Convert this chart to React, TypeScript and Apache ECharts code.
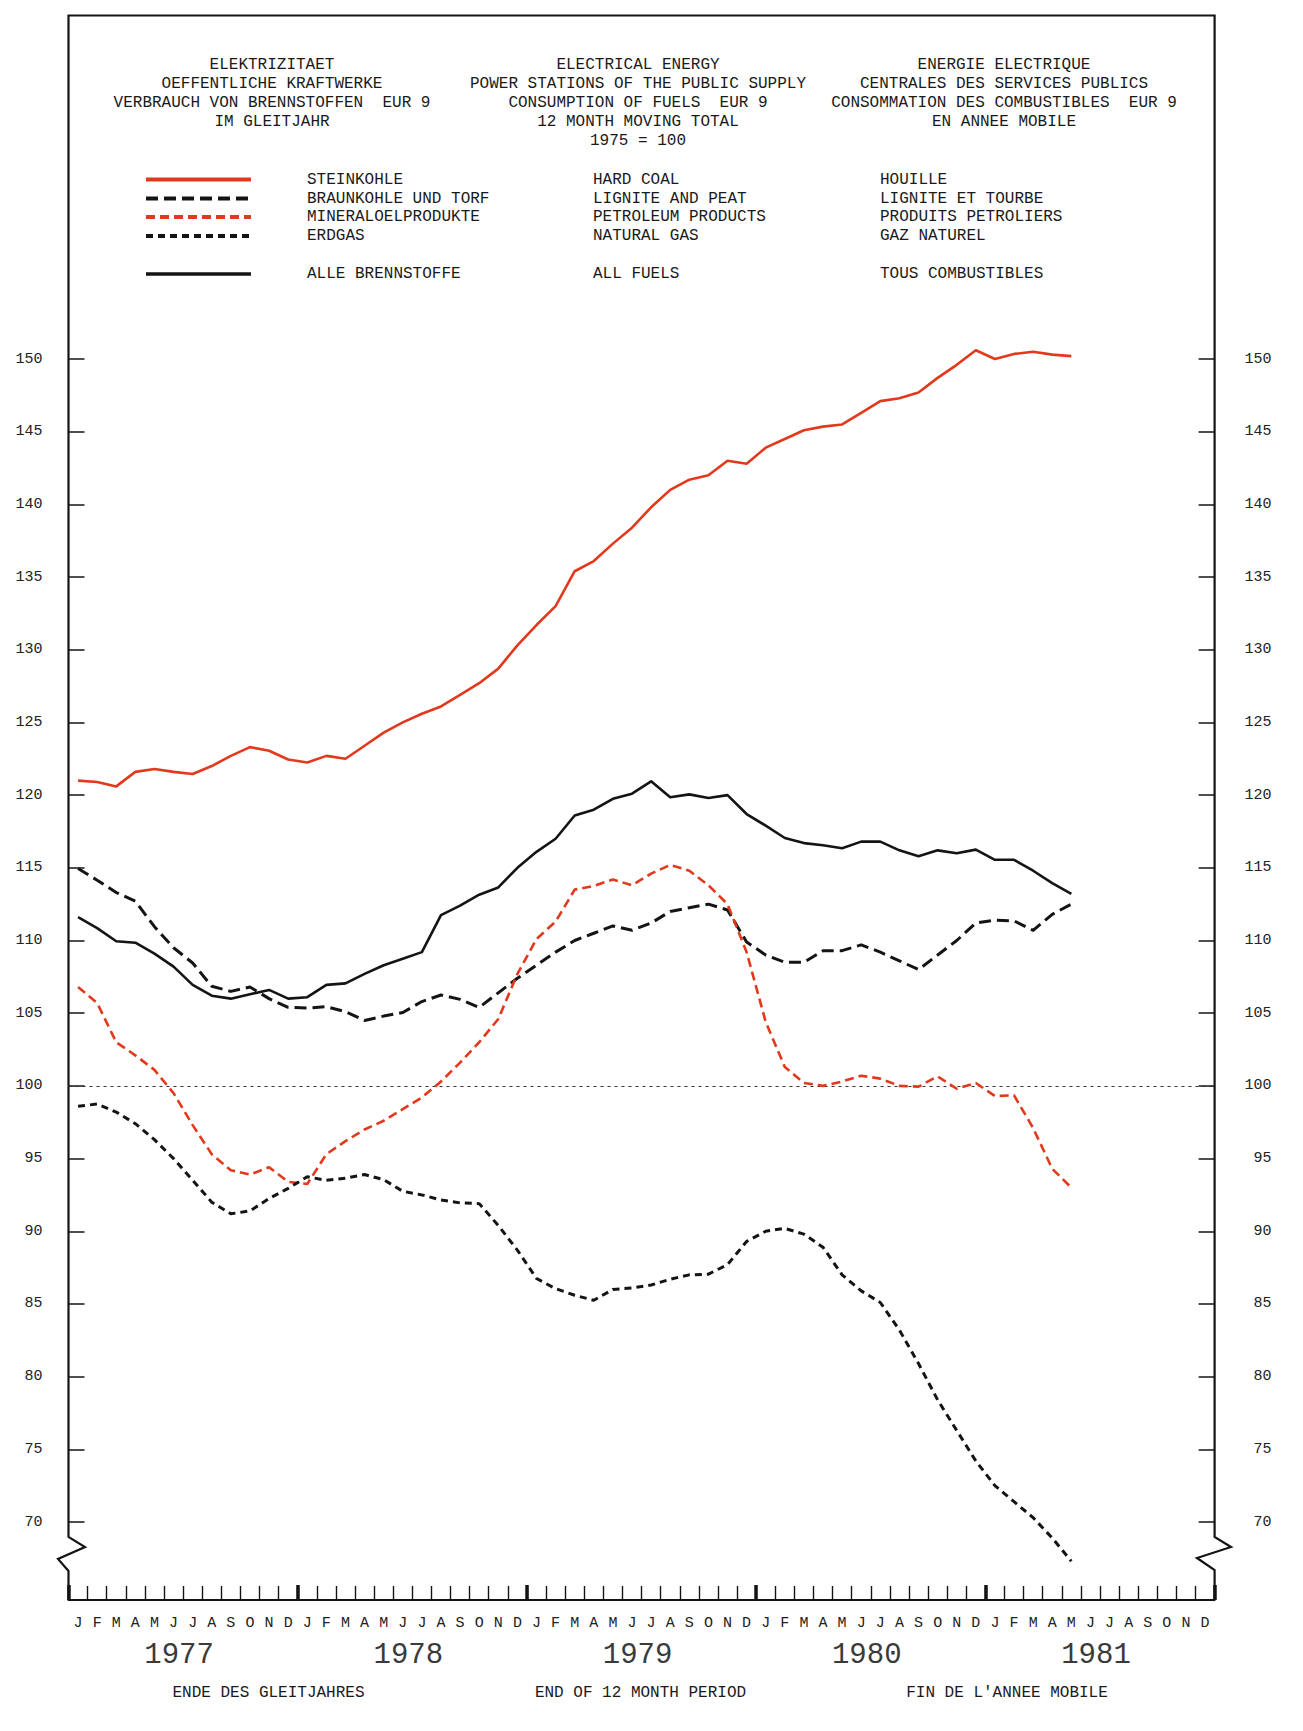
import React, { useEffect, useRef } from "react";
import * as echarts from "echarts";

// ---------- categories ----------
const years = ["1977", "1978", "1979", "1980", "1981"];
const monthLetters = ["J", "F", "M", "A", "M", "J", "J", "A", "S", "O", "N", "D"];
const months = years.flatMap((y) =>
  monthLetters.map((_, i) => `${y}-${String(i + 1).padStart(2, "0")}`)
);

// ---------- series values (Jan 1977 .. May 1981), 1975 = 100 ----------
const hardCoal = [
  121.0, 120.9, 120.6, 121.6, 121.8, 121.6, 121.45, 122.0, 122.7, 123.3, 123.05, 122.45,
  122.25, 122.7, 122.5, 123.4, 124.3, 125.0, 125.6, 126.1, 126.9, 127.7, 128.7, 130.3,
  131.7, 133.0, 135.4, 136.1, 137.3, 138.4, 139.8, 141.0, 141.7, 142.0, 143.0, 142.8,
  143.9, 144.5, 145.1, 145.35, 145.5, 146.3, 147.1, 147.3, 147.7, 148.7, 149.6, 150.6,
  150.0, 150.35, 150.5, 150.3, 150.2,
];
const lignite = [
  114.95, 114.15, 113.3, 112.7, 110.95, 109.5, 108.45, 106.85, 106.5, 106.8, 106.0, 105.4,
  105.35, 105.45, 105.1, 104.5, 104.8, 105.05, 105.8, 106.25, 105.95, 105.4, 106.4, 107.4,
  108.3, 109.2, 110.0, 110.5, 111.0, 110.7, 111.2, 112.0, 112.25, 112.5, 112.1, 109.9,
  109.0, 108.5, 108.5, 109.3, 109.3, 109.7, 109.2, 108.6, 108.0, 109.0, 110.0, 111.2,
  111.4, 111.35, 110.7, 111.8, 112.5,
];
const petroleum = [
  106.8, 105.7, 103.0, 102.1, 101.1, 99.5, 97.3, 95.3, 94.2, 93.9, 94.4, 93.4,
  93.25, 95.3, 96.2, 97.0, 97.6, 98.4, 99.2, 100.3, 101.6, 103.0, 104.6, 107.7,
  110.1, 111.3, 113.5, 113.75, 114.2, 113.8, 114.6, 115.2, 114.8, 113.8, 112.5, 109.2,
  104.4, 101.3, 100.2, 100.0, 100.3, 100.7, 100.5, 100.0, 99.95, 100.65, 99.8, 100.2,
  99.3, 99.35, 97.1, 94.3, 93.0,
];
const naturalGas = [
  98.6, 98.75, 98.2, 97.4, 96.3, 95.0, 93.5, 92.0, 91.2, 91.4, 92.25, 92.95,
  93.75, 93.5, 93.65, 93.9, 93.55, 92.75, 92.5, 92.15, 91.95, 91.9, 90.4, 88.7,
  86.75, 86.05, 85.6, 85.25, 86.0, 86.1, 86.3, 86.7, 87.0, 87.05, 87.7, 89.3,
  90.0, 90.2, 89.8, 88.9, 87.0, 85.9, 85.1, 83.2, 80.9, 78.4, 76.3, 74.2,
  72.5, 71.4, 70.3, 68.9, 67.3,
];
const allFuels = [
  111.6, 110.85, 109.95, 109.85, 109.1, 108.2, 106.95, 106.2, 106.0, 106.3, 106.6, 106.0,
  106.1, 106.95, 107.05, 107.7, 108.3, 108.75, 109.2, 111.75, 112.4, 113.15, 113.65, 115.0,
  116.1, 117.0, 118.6, 119.0, 119.75, 120.1, 120.95, 119.85, 120.05, 119.8, 120.0, 118.7,
  117.9, 117.05, 116.7, 116.55, 116.35, 116.8, 116.8, 116.2, 115.8, 116.2, 116.0, 116.25,
  115.55, 115.55, 114.8, 113.95, 113.2,
];

// ---------- tick labels ----------
const yTickValues = [70, 75, 80, 85, 90, 95, 100, 105, 110, 115, 120, 125, 130, 135, 140, 145, 150];
const baseValue = 100;

// ---------- texts ----------
const titleDE = ["ELEKTRIZITAET", "OEFFENTLICHE KRAFTWERKE", "VERBRAUCH VON BRENNSTOFFEN  EUR 9", "IM GLEITJAHR"];
const titleEN = ["ELECTRICAL ENERGY", "POWER STATIONS OF THE PUBLIC SUPPLY", "CONSUMPTION OF FUELS  EUR 9", "12 MONTH MOVING TOTAL", "1975 = 100"];
const titleFR = ["ENERGIE ELECTRIQUE", "CENTRALES DES SERVICES PUBLICS", "CONSOMMATION DES COMBUSTIBLES  EUR 9", "EN ANNEE MOBILE"];
const legendDE = ["STEINKOHLE", "BRAUNKOHLE UND TORF", "MINERALOELPRODUKTE", "ERDGAS", "ALLE BRENNSTOFFE"];
const legendEN = ["HARD COAL", "LIGNITE AND PEAT", "PETROLEUM PRODUCTS", "NATURAL GAS", "ALL FUELS"];
const legendFR = ["HOUILLE", "LIGNITE ET TOURBE", "PRODUITS PETROLIERS", "GAZ NATUREL", "TOUS COMBUSTIBLES"];
const footerTexts = ["ENDE DES GLEITJAHRES", "END OF 12 MONTH PERIOD", "FIN DE L'ANNEE MOBILE"];

// ---------- styles / layout ----------
const RED = "#e2391d";
const INK = "#141414";
const FONT = '"Liberation Mono", "DejaVu Sans Mono", monospace';
const W = 1303;
const H = 1731;
const L = 68.5;
const R = 1214.6;
const T = 15.5;
const B = 1600;
const Y150 = 359;
const Y70 = 1522;
const pxPerUnit = (Y70 - Y150) / 80;
const yMin = 70 - (B - Y70) / pxPerUnit;
const yMax = 150 + (Y150 - T) / pxPerUnit;

const seriesDefs = [
  { name: legendDE[0], data: hardCoal, color: RED, width: 2.6, dash: "solid" as any, legendWidth: 4 },
  { name: legendDE[1], data: lignite, color: INK, width: 3, dash: [12, 6], legendWidth: 4 },
  { name: legendDE[2], data: petroleum, color: RED, width: 2.6, dash: [9, 5], legendWidth: 4 },
  { name: legendDE[3], data: naturalGas, color: INK, width: 3, dash: [7, 5], legendWidth: 4 },
  { name: legendDE[4], data: allFuels, color: INK, width: 2.6, dash: "solid" as any, legendWidth: 3.5 },
];
const legendRowsY = [179.5, 198.5, 217, 236, 274];

function txt(text: string, x: number, y: number, align: string, size = 16, color = "#1a1a1a") {
  return {
    type: "text",
    x,
    y,
    silent: true,
    style: {
      text,
      font: `${size}px ${FONT}`,
      fill: color,
      align,
      verticalAlign: "middle",
      textAlign: align,
      textVerticalAlign: "middle",
    },
  };
}

export default function App() {
  const ref = useRef<HTMLDivElement>(null);

  useEffect(() => {
    if (!ref.current) return;
    const chart = echarts.init(ref.current, undefined, { renderer: "svg" });

    const titleRowsY = [65, 83.5, 102.5, 121.5, 140.5];
    const graphics: any[] = [];
    titleDE.forEach((t, i) => graphics.push(txt(t, 272, titleRowsY[i], "center")));
    titleEN.forEach((t, i) => graphics.push(txt(t, 638, titleRowsY[i], "center")));
    titleFR.forEach((t, i) => graphics.push(txt(t, 1004, titleRowsY[i], "center")));

    seriesDefs.forEach((s, i) => {
      const y = legendRowsY[i];
      graphics.push({
        type: "line",
        silent: true,
        shape: { x1: 146, y1: y, x2: 251, y2: y },
        style: {
          stroke: s.color,
          lineWidth: s.legendWidth,
          lineDash: s.dash === "solid" ? null : s.dash,
        },
      });
      graphics.push(txt(legendDE[i], 307, y, "left"));
      graphics.push(txt(legendEN[i], 593, y, "left"));
      graphics.push(txt(legendFR[i], 880, y, "left"));
    });

    const footerX = [268.5, 640.5, 1007];
    footerTexts.forEach((t, i) => graphics.push(txt(t, footerX[i], 1693, "center")));

    // frame with axis-break zigzags
    graphics.push({
      type: "polyline",
      silent: true,
      shape: {
        points: [
          [L, B], [L, 1571], [58, 1559], [85, 1547], [L, 1537],
          [L, T], [R, T],
          [R, 1537], [1231, 1547], [1197, 1558], [R, 1570], [R, B],
        ],
      },
      style: { stroke: INK, lineWidth: 2.2, fill: null },
    });

    const axisLabelFont = { fontFamily: FONT, fontSize: 15, color: "#222" };

    const option: any = {
      animation: false,
      backgroundColor: "#ffffff",
      grid: { left: L, right: W - R, top: T, bottom: H - B, containLabel: false },
      xAxis: [
        {
          type: "category",
          data: months,
          position: "bottom",
          boundaryGap: true,
          axisLine: { show: true, lineStyle: { color: INK, width: 2.2 } },
          axisTick: { show: true, inside: true, length: 14, interval: 0, lineStyle: { color: INK, width: 1.4 } },
          axisLabel: {
            show: true,
            interval: 0,
            margin: 16,
            ...axisLabelFont,
            formatter: (v: string) => monthLetters[parseInt(v.split("-")[1], 10) - 1],
          },
          splitLine: { show: false },
        },
        {
          type: "category",
          data: months,
          position: "bottom",
          boundaryGap: true,
          axisLine: { show: false },
          axisTick: {
            show: true,
            inside: true,
            length: 15,
            interval: (index: number) => index % 12 === 0,
            lineStyle: { color: INK, width: 3.5 },
          },
          axisLabel: { show: false },
          splitLine: { show: false },
        },
        {
          type: "category",
          data: years,
          position: "bottom",
          boundaryGap: true,
          axisLine: { show: false },
          axisTick: { show: false },
          axisLabel: {
            show: true,
            interval: 0,
            margin: 41,
            padding: [0, 8, 0, 0],
            fontFamily: FONT,
            fontSize: 29,
            color: "#3a3a3a",
          },
          splitLine: { show: false },
        },
      ],
      yAxis: [
        {
          type: "value",
          position: "left",
          min: yMin,
          max: yMax,
          axisLine: { show: false },
          splitLine: { show: false },
          axisTick: {
            show: true,
            inside: true,
            length: 16,
            customValues: yTickValues,
            lineStyle: { color: INK, width: 1.5 },
          },
          axisLabel: { show: true, margin: 26, customValues: yTickValues, padding: [0, 0, 6, 0], ...axisLabelFont },
        },
        {
          type: "value",
          position: "right",
          min: yMin,
          max: yMax,
          axisLine: { show: false },
          splitLine: { show: false },
          axisTick: {
            show: true,
            inside: true,
            length: 16,
            customValues: yTickValues,
            lineStyle: { color: INK, width: 1.5 },
          },
          axisLabel: {
            show: true,
            margin: 57,
            align: "right",
            customValues: yTickValues,
            padding: [0, 0, 6, 0],
            ...axisLabelFont,
          },
        },
      ],
      series: seriesDefs.map((s, i) => ({
        name: s.name,
        type: "line",
        xAxisIndex: 0,
        yAxisIndex: 0,
        data: s.data,
        symbol: "none",
        smooth: false,
        clip: false,
        z: 3 + i,
        lineStyle: { color: s.color, width: s.width, type: s.dash, cap: "butt", join: "round" },
        markLine:
          i === 4
            ? {
                silent: true,
                symbol: ["none", "none"],
                label: { show: false },
                lineStyle: { color: "#333", width: 1, type: [3, 4] },
                data: [{ yAxis: baseValue }],
              }
            : undefined,
      })),
      graphic: { elements: graphics },
    };

    chart.setOption(option);
    return () => chart.dispose();
  }, []);

  return (
    <div
      ref={ref}
      style={{ position: "absolute", left: 0, top: 0, width: W, height: H, background: "#fff" }}
    />
  );
}
